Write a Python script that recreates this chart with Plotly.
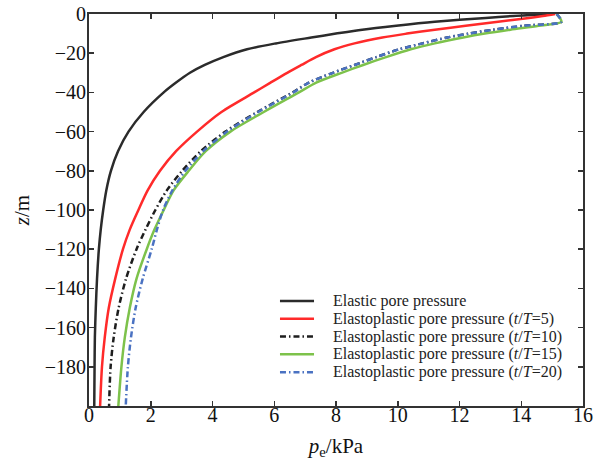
import plotly.graph_objects as go

# depth values (m), shared by all curves
z = [0, -1, -2, -4, -6, -8, -10, -12, -15, -18, -22, -26, -30, -35, -40,
     -50, -60, -70, -80, -90, -100, -110, -120, -135, -150, -165, -180, -200]

# excess pore pressure p_e (kPa)
p_elastic = [15.0, 13.75, 12.85, 11.2, 9.95, 8.85, 8.0, 7.2, 6.05, 5.12, 4.35, 3.75,
             3.27, 2.82, 2.42, 1.77, 1.28, 0.94, 0.71, 0.56, 0.46, 0.38, 0.32, 0.26,
             0.22, 0.19, 0.18, 0.17]
p_t5 = [15.1, 14.7, 14.25, 13.25, 12.2, 11.2, 10.3, 9.5, 8.6, 7.95, 7.35, 6.88, 6.42,
        5.88, 5.35, 4.29, 3.5, 2.82, 2.3, 1.9, 1.6, 1.32, 1.1, 0.85, 0.64, 0.51,
        0.42, 0.36]
p_t10 = [15.15, 15.2, 15.25, 15.3, 14.1, 13.1, 12.3, 11.6, 10.8, 10.05, 9.3, 8.6,
         7.9, 7.12, 6.6, 5.45, 4.42, 3.62, 3.02, 2.52, 2.15, 1.83, 1.54, 1.2, 0.96,
         0.8, 0.7, 0.65]
p_t15 = [15.15, 15.2, 15.25, 15.3, 14.56, 13.65, 12.82, 12.12, 11.2, 10.42, 9.62,
         8.88, 8.18, 7.36, 6.8, 5.66, 4.58, 3.78, 3.23, 2.74, 2.42, 2.12, 1.87,
         1.54, 1.32, 1.16, 1.05, 0.95]
p_t20 = [15.15, 15.2, 15.25, 15.3, 14.05, 13.1, 12.3, 11.6, 10.8, 10.05, 9.3, 8.6,
         7.9, 7.12, 6.62, 5.48, 4.47, 3.7, 3.12, 2.7, 2.4, 2.2, 2.03, 1.74, 1.51,
         1.36, 1.26, 1.19]

names = ["Elastic pore pressure",
         "Elastoplastic pore pressure (<i>t</i>/<i>T</i>=5)",
         "Elastoplastic pore pressure (<i>t</i>/<i>T</i>=10)",
         "Elastoplastic pore pressure (<i>t</i>/<i>T</i>=15)",
         "Elastoplastic pore pressure (<i>t</i>/<i>T</i>=20)"]

x_ticks = [0, 2, 4, 6, 8, 10, 12, 14, 16]
y_ticks = [0, -20, -40, -60, -80, -100, -120, -140, -160, -180]

colors = ["#2b2b2b", "#ff2a2a", "#1e1e1e", "#7dc24b", "#4a72c2"]
dashes = ["solid", "solid", "6px,3px,1.5px,3px", "solid", "6px,3px,1.5px,3px"]
series = [p_elastic, p_t5, p_t10, p_t15, p_t20]

fig = go.Figure()
for p, col, dash, nm in zip(series, colors, dashes, names):
    fig.add_trace(go.Scatter(
        x=p, y=z, mode="lines", name=nm, showlegend=False, hoverinfo="skip",
        line=dict(color=col, width=2.5, dash=dash, shape="spline", smoothing=0.8),
    ))

font_family = "Liberation Serif"

# legend drawn as line samples + text in paper coordinates (compact row spacing)
row0, row_step = 0.2679, 0.0454
for i, (col, dash, nm) in enumerate(zip(colors, dashes, names)):
    yy = row0 - i * row_step
    fig.add_shape(type="line", xref="paper", yref="paper",
                  x0=0.3866, x1=0.4555, y0=yy, y1=yy,
                  line=dict(color=col, width=2.5, dash=dash))
    fig.add_annotation(xref="paper", yref="paper", x=0.4899, y=yy,
                       xanchor="left", yanchor="middle", showarrow=False,
                       text=nm, font=dict(family=font_family, size=16, color="#222222"))

axis_common = dict(
    showline=True, linecolor="#333333", linewidth=2, mirror="ticks",
    ticks="inside", ticklen=5, tickwidth=1.5, tickcolor="#333333",
    showgrid=False, zeroline=False, automargin=False, ticklabeloverflow="allow",
    tickfont=dict(family=font_family, size=20, color="#111111"),
)

fig.update_layout(
    width=607, height=464,
    margin=dict(l=89, r=24, t=14, b=58, autoexpand=False),
    paper_bgcolor="white", plot_bgcolor="white",
    font=dict(family=font_family, color="#111111"),
    xaxis=dict(range=[0, 16], tickvals=x_ticks, ticklabelstandoff=-10,
               title=dict(text="<i>p</i><sub>e</sub>/kPa",
                          font=dict(family=font_family, size=21), standoff=13),
               **axis_common),
    yaxis=dict(range=[-200, 0], tickvals=y_ticks, ticklabelstandoff=-3,
               title=dict(text="<i>z</i>/m",
                          font=dict(family=font_family, size=21), standoff=9),
               **axis_common),
    showlegend=False,
    hovermode=False,
)

fig.write_html("out.html",
               config={"displayModeBar": False, "staticPlot": True},
               post_script="document.body.style.margin='0px';"
                           "document.body.style.overflow='hidden';")
